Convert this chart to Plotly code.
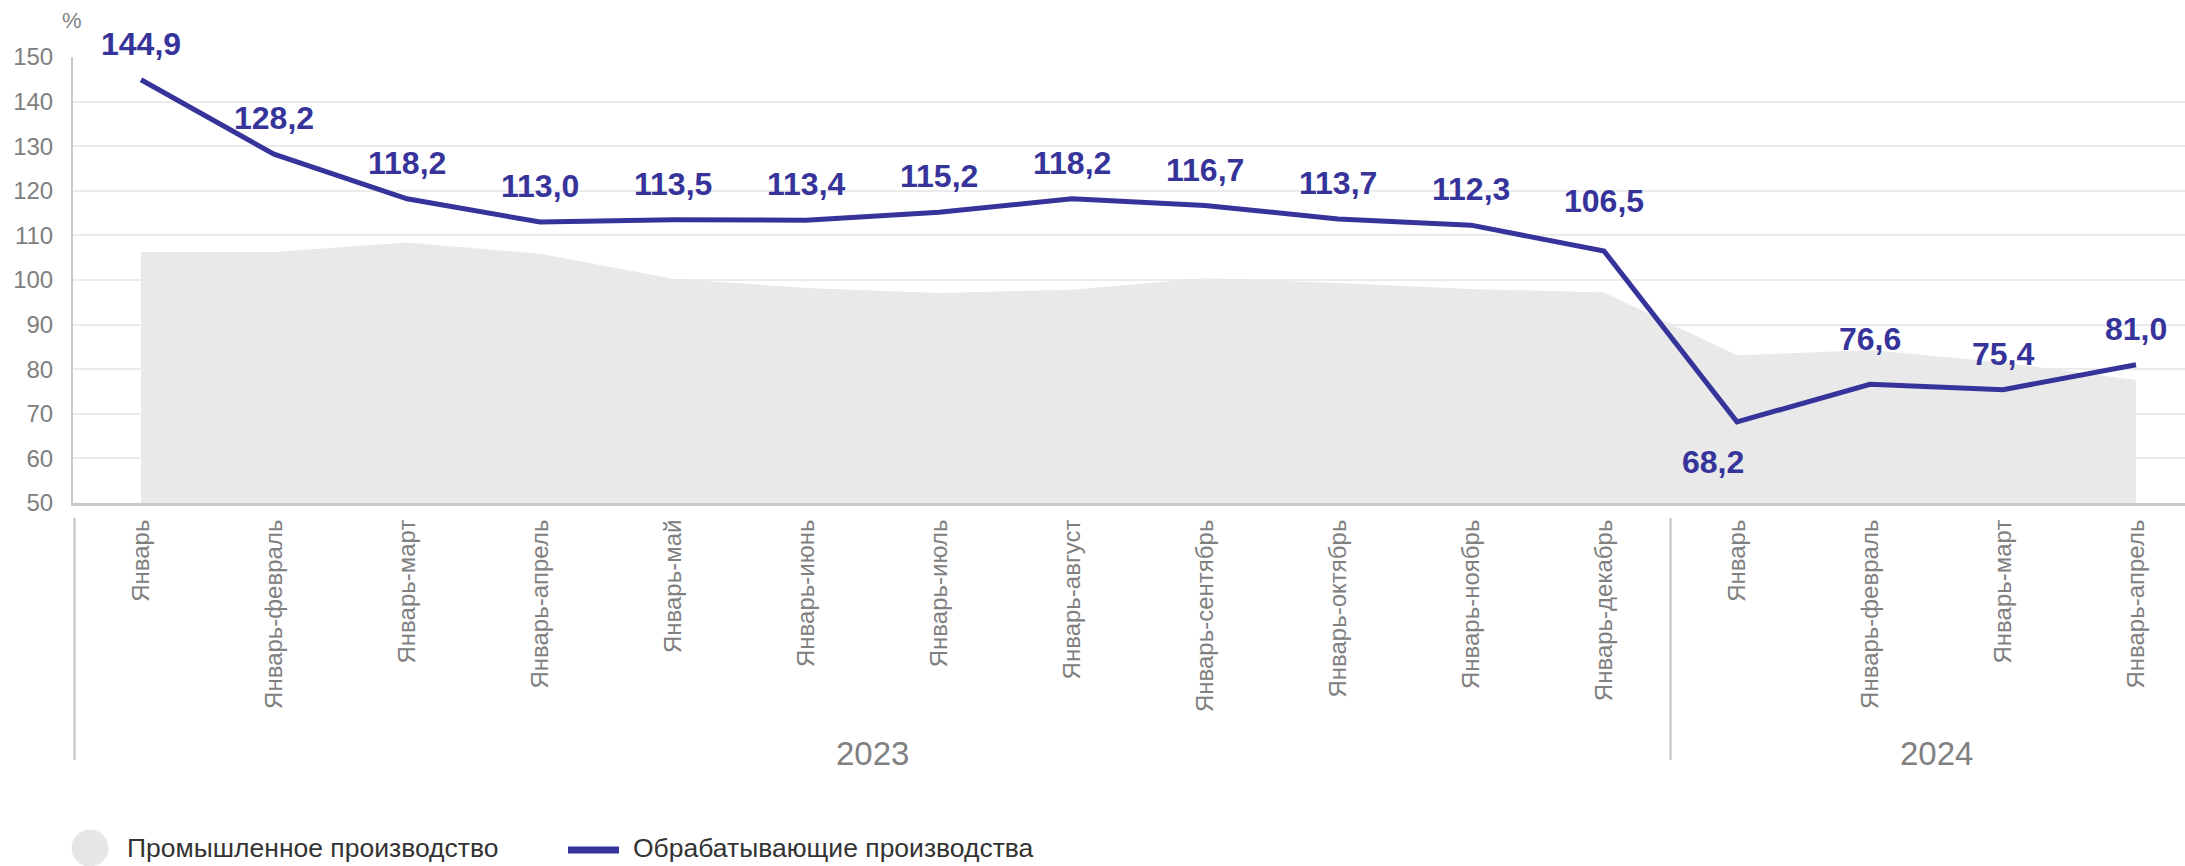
import plotly.graph_objects as go

# ---- data ----
months = ["Январь", "Январь-февраль", "Январь-март", "Январь-апрель", "Январь-май",
          "Январь-июнь", "Январь-июль", "Январь-август", "Январь-сентябрь",
          "Январь-октябрь", "Январь-ноябрь", "Январь-декабрь",
          "Январь", "Январь-февраль", "Январь-март", "Январь-апрель"]
years = ["2023"] * 12 + ["2024"] * 4
industrial = [106.3, 106.3, 108.4, 105.9, 100.3, 98.2, 97.1, 97.8, 100.4, 99.3, 98.0, 97.2,
              83.1, 84.3, 81.5, 77.6]
manufacturing = [144.9, 128.2, 118.2, 113.0, 113.5, 113.4, 115.2, 118.2, 116.7, 113.7, 112.3, 106.5,
                 68.2, 76.6, 75.4, 81.0]
series_names = ["Промышленное производство", "Обрабатывающие производства"]
y_ticks = [50, 60, 70, 80, 90, 100, 110, 120, 130, 140, 150]

# ---- style ----
W, H = 2185, 866
ML, MR, MT, MB = 73, 0, 57, 363
LINE_COLOR = "#36339a"
AREA_COLOR = "#e9e9e9"
GRAY = "#808080"
FONT = "Liberation Sans, Arial, sans-serif"
label_yshift = [36, 36, 36, 36, 36, 36, 36, 36, 36, 36, 36, 50, -40, 45, 36, 36]
label_xshift = [0] * 12 + [-24, 0, 0, 0]

x = list(range(len(months)))
plot_w = W - ML - MR
plot_h = H - MT - MB


def px_x(p):
    return (p - ML) / plot_w


def px_y(p):
    return (H - MB - p) / plot_h


fig = go.Figure()
fig.add_trace(go.Scatter(
    x=x, y=industrial, mode="lines", fill="tozeroy", fillcolor=AREA_COLOR,
    line=dict(width=0, color=AREA_COLOR), name=series_names[0], showlegend=False,
    hoverinfo="skip"))
fig.add_trace(go.Scatter(
    x=x, y=manufacturing, mode="lines", line=dict(width=5, color=LINE_COLOR),
    name=series_names[1], showlegend=False))

annotations = []
for i, v in enumerate(manufacturing):
    annotations.append(dict(
        x=i, y=v, xref="x", yref="y", text=f"{v:.1f}".replace(".", ","),
        showarrow=False, yshift=label_yshift[i], xshift=label_xshift[i],
        font=dict(family=FONT, size=32, color=LINE_COLOR, weight="bold"),
        xanchor="center", yanchor="middle"))

# year group labels
groups = {}
for i, yv in enumerate(years):
    groups.setdefault(yv, []).append(i)
for yv, idx in groups.items():
    annotations.append(dict(
        x=sum(idx) / len(idx), y=px_y(753), xref="x", yref="paper", text=yv,
        showarrow=False, font=dict(family=FONT, size=33, color=GRAY),
        xanchor="center", yanchor="middle"))

# "%" unit label
annotations.append(dict(x=px_x(72), y=px_y(20), xref="paper", yref="paper", text="%",
                        showarrow=False, font=dict(family=FONT, size=22, color=GRAY),
                        xanchor="center", yanchor="middle"))

# legend text
annotations.append(dict(x=px_x(125), y=px_y(848), xref="paper", yref="paper",
                        text=series_names[0], showarrow=False,
                        font=dict(family=FONT, size=26.5, color="#333333"),
                        xanchor="left", yanchor="middle"))
annotations.append(dict(x=px_x(631), y=px_y(848), xref="paper", yref="paper",
                        text=series_names[1], showarrow=False,
                        font=dict(family=FONT, size=26.5, color="#333333"),
                        xanchor="left", yanchor="middle"))

shapes = []
# group separators
boundaries = [-0.5]
for i in range(1, len(years)):
    if years[i] != years[i - 1]:
        boundaries.append(i - 0.5)
for b in boundaries:
    shapes.append(dict(type="line", xref="x", yref="paper", x0=b, x1=b,
                       y0=px_y(518), y1=px_y(760),
                       line=dict(color="#bfbfbf", width=2)))
# legend symbols
shapes.append(dict(type="circle", xref="paper", yref="paper",
                   x0=px_x(71.5), x1=px_x(108.5), y0=px_y(829.5), y1=px_y(866.5),
                   fillcolor="#e6e6e6", line=dict(width=0)))
shapes.append(dict(type="line", xref="paper", yref="paper",
                   x0=px_x(568), x1=px_x(619), y0=px_y(850), y1=px_y(850),
                   line=dict(color=LINE_COLOR, width=7)))

x_min = (ML - 141) / 133
x_max = (W - 141) / 133

fig.update_layout(
    width=W, height=H,
    margin=dict(l=ML, r=MR, t=MT, b=MB, pad=0),
    paper_bgcolor="white", plot_bgcolor="white",
    font=dict(family=FONT, color=GRAY),
    showlegend=False,
    annotations=annotations,
    shapes=shapes,
    xaxis=dict(
        range=[x_min, x_max], tickmode="array", tickvals=x, ticktext=months,
        tickangle=-90, tickfont=dict(family=FONT, size=24, color=GRAY),
        showgrid=False, zeroline=False, showline=True, linecolor="#c8c8c8",
        linewidth=3, ticks="", ticklabelstandoff=4),
    yaxis=dict(
        range=[50, 150], tickmode="array", tickvals=y_ticks,
        tickfont=dict(family=FONT, size=24, color=GRAY),
        showgrid=True, gridcolor="#ebebeb", gridwidth=1.5, zeroline=False,
        showline=True, linecolor="#c8c8c8", linewidth=2, ticks="",
        ticklabelstandoff=13),
)

fig.write_html("out.html", config={"displayModeBar": False},
               post_script="document.body.style.margin='0';document.body.style.overflow='hidden';")
